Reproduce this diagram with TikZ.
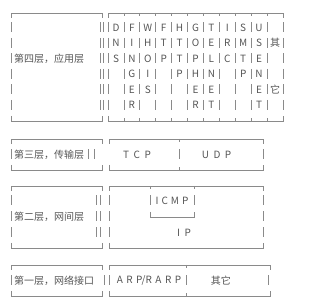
\documentclass[tikz,border=0pt]{standalone}
\usepackage{fontspec}
\setmainfont{Noto Sans CJK SC}
\usetikzlibrary{positioning}

\definecolor{rulegray}{HTML}{8A8A8A}
\definecolor{inkgray}{HTML}{555555}

% box edges drawn the way box characters look: corner ticks, broken sides
\newcommand\frametop[3]{\draw[frame] ({#1},{#3+5}) -- ({#1},{#3}) -- ({#2},{#3}) -- ({#2},{#3+5});}
\newcommand\framebot[3]{\draw[frame] ({#1},{#3-5}) -- ({#1},{#3}) -- ({#2},{#3}) -- ({#2},{#3-5});}
\newcommand\rowbar[2]{\draw[bar] ({#1},{#2-5}) -- ({#1},{#2+5});}
\newcommand\teeup[2]{\draw[frame] ({#1},{#2}) -- ({#1},{#2-3});}
\newcommand\teedown[2]{\draw[frame] ({#1},{#2}) -- ({#1},{#2+3});}

\begin{document}
\begin{tikzpicture}[x=1pt,y=-1pt,
    frame/.style={draw=rulegray,line width=0.9pt},
    bar/.style={draw=rulegray,line width=0.9pt},
    txt/.style={text=inkgray,font=\fontsize{10}{12}\selectfont,inner sep=0pt},
    cell/.style={txt,anchor=center}]

  \useasboundingbox (0,0) rectangle (325,305);

  % layer 4: application
  \frametop{11}{102}{13}
  \framebot{11}{102}{121}
  \frametop{108.5}{283}{13}
  \framebot{108.5}{283}{121}
  \foreach \k in {1,...,10} {
    \teedown{124+15.9*(\k-1)}{13}
    \teeup{124+15.9*(\k-1)}{121}
  }
  \foreach \r in {1,...,6} {
    \rowbar{11}{27.5+15.5*(\r-1)}
    \rowbar{100}{27.5+15.5*(\r-1)}
    \rowbar{103}{27.5+15.5*(\r-1)}
    \rowbar{108.5}{27.5+15.5*(\r-1)}
    \rowbar{283}{27.5+15.5*(\r-1)}
    \foreach \k in {1,...,10}
      \rowbar{124+15.9*(\k-1)}{27.5+15.5*(\r-1)};
  }
  \node[txt,anchor=west] (app) at (14,58.5) {第四层，应用层};
  \foreach \c/\letters in {1/{D,N,S},2/{F,I,N,G,E,R},3/{W,H,O,I,S},4/{F,T,P},
      5/{H,T,T,P},6/{G,O,P,H,E,R},7/{T,E,L,N,E,T},8/{I,R,C},9/{S,M,T,P},
      10/{U,S,E,N,E,T}}
    \foreach \ch [count=\r] in \letters
      \node[cell] (app-\c-\r) at ({116+15.9*(\c-1)},{27.5+15.5*(\r-1)}) {\ch};
  \node[cell] (app-11-2) at (275,43) {其};
  \node[cell] (app-11-5) at (275,89.5) {它};

  % layer 3: transport
  \frametop{11}{102}{139}
  \framebot{11}{102}{170}
  \frametop{109}{263}{139}
  \framebot{109}{263}{170}
  \teedown{179}{139}
  \teeup{179}{170}
  \rowbar{11}{154.5}
  \rowbar{88}{154.5}
  \rowbar{94.5}{154.5}
  \rowbar{179}{154.5}
  \rowbar{263}{154.5}
  \node[txt,anchor=west] (trans) at (14,154.5) {第三层，传输层};
  \node[cell] (tcp) at (137,154.5) {T\kern4.5pt C\kern4.5pt P};
  \node[cell] (udp) at (216.5,154.5) {U\kern4.5pt D\kern4.5pt P};

  % layer 2: internet
  \frametop{11}{102}{186}
  \framebot{11}{102}{248}
  \frametop{109}{263}{186}
  \framebot{109}{263}{248}
  \foreach \y in {200.5,216.5,232.5} {
    \rowbar{11}{\y}
    \rowbar{96}{\y}
    \rowbar{100.5}{\y}
    \rowbar{109}{\y}
    \rowbar{263}{\y}
  }
  \teedown{150}{186}
  \teedown{194}{186}
  \rowbar{150}{200.5}
  \rowbar{194}{200.5}
  \framebot{150}{194}{217}
  \node[txt,anchor=west] (inet) at (14,216.5) {第二层，网间层};
  \node[cell] (icmp) at (172,200.5) {I\kern3pt C\kern3pt M\kern3pt P};
  \node[cell] (ip) at (184,232.5) {I\kern4.5pt P};

  % layer 1: network interface
  \frametop{11}{102}{265}
  \framebot{11}{102}{296}
  \frametop{109}{270}{265}
  \framebot{109}{270}{296}
  \teedown{186}{265}
  \teeup{186}{296}
  \rowbar{11}{280.5}
  \rowbar{104}{280.5}
  \rowbar{109.5}{280.5}
  \rowbar{186.5}{280.5}
  \rowbar{268.5}{280.5}
  \node[txt,anchor=west] (link) at (14,280.5) {第一层，网络接口};
  \node[cell] (arp) at (149,280.5) {A\kern3.5pt R\kern3.5pt P/R\kern3.5pt A\kern3.5pt R\kern3.5pt P};
  \node[cell] (other) at (221,280.5) {其它};
\end{tikzpicture}
\end{document}
